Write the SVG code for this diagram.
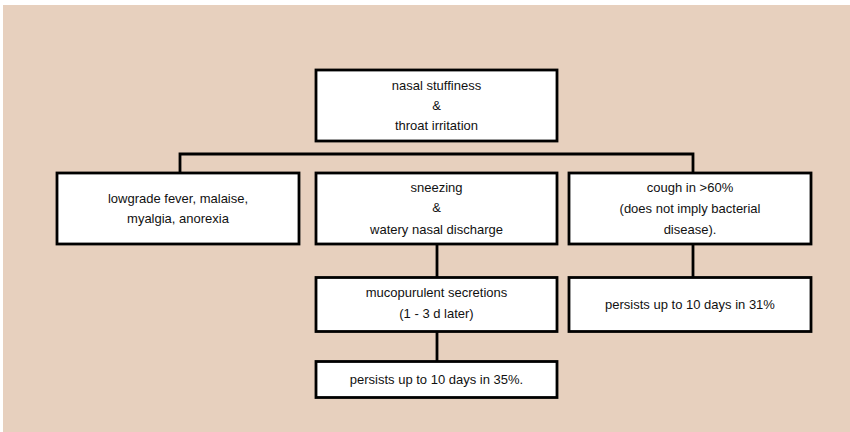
<svg xmlns="http://www.w3.org/2000/svg" width="850" height="432" viewBox="0 0 850 432">
<style>
.bg{fill:#E7D0BE}
.box{fill:#fff;stroke:#000;stroke-width:2.8}
.con{fill:none;stroke:#000;stroke-width:2.8}
text{font-family:"Liberation Sans",Arial,sans-serif;font-size:13px;fill:#111;text-anchor:middle}
</style>
<rect x="0" y="0" width="850" height="432" fill="#fff"/>
<rect class="bg" x="3" y="5" width="847" height="427"/>
<g id="connectors">
<polyline class="con" points="180,172 180,154 693,154 693,172"/>
<line class="con" x1="437" y1="244" x2="437" y2="277"/>
<line class="con" x1="437" y1="332" x2="437" y2="361"/>
<line class="con" x1="693" y1="244" x2="693" y2="277"/>
</g>
<g id="n-top">
<rect class="box" x="316" y="70" width="241" height="71"/>
<text x="436.5" y="89.5">nasal stuffiness</text>
<text x="436.5" y="109.5">&amp;</text>
<text x="436.5" y="130">throat irritation</text>
</g>
<g id="n-fever">
<rect class="box" x="57" y="173" width="242" height="71"/>
<text x="178" y="203">lowgrade fever, malaise,</text>
<text x="178" y="223">myalgia, anorexia</text>
</g>
<g id="n-sneeze">
<rect class="box" x="316" y="173" width="241" height="71"/>
<text x="436.5" y="191.5">sneezing</text>
<text x="436.5" y="212">&amp;</text>
<text x="436.5" y="233.5">watery nasal discharge</text>
</g>
<g id="n-cough">
<rect class="box" x="569" y="173" width="242" height="71"/>
<text x="690" y="191.5">cough in &gt;60%</text>
<text x="690" y="212.5">(does not imply bacterial</text>
<text x="690" y="233.5">disease).</text>
</g>
<g id="n-muco">
<rect class="box" x="316" y="277.5" width="241" height="54"/>
<text x="436.5" y="297">mucopurulent secretions</text>
<text x="436.5" y="317.5">(1 - 3 d later)</text>
</g>
<g id="n-cough-persist">
<rect class="box" x="569" y="277.5" width="242" height="54"/>
<text x="690" y="308.5">persists up to 10 days in 31%</text>
</g>
<g id="n-muco-persist">
<rect class="box" x="316" y="361.5" width="241" height="36"/>
<text x="436.5" y="383.5">persists up to 10 days in 35%.</text>
</g>
</svg>
